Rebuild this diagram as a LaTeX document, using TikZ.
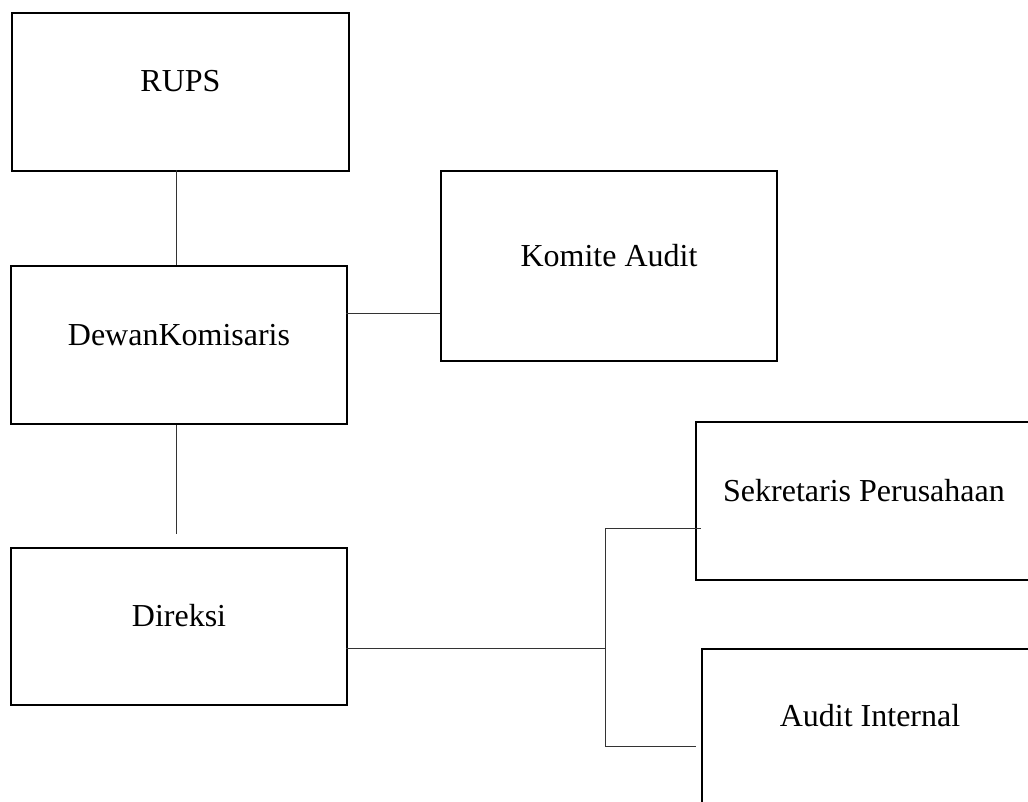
\documentclass[tikz,border=0pt]{standalone}
\usepackage{fontspec}
\setmainfont{Liberation Serif}
\usetikzlibrary{positioning}

\begin{document}
\begin{tikzpicture}[x=1pt, y=-1pt,
    orgbox/.style={draw=black, line width=2pt, anchor=north west, inner sep=0pt,
      minimum width=336pt, font=\fontsize{32}{38}\selectfont, text depth=#1},
    orgbox/.default=80pt,
    orgline/.style={line width=1pt, draw=black!80}
]
        \clip (0,0) rectangle (1028,801);

        \node[orgbox, text height=78pt, minimum width=337pt, name=rups] at(11,12) {RUPS};
        \node[orgbox, text height=79pt, text depth=79pt, name=dewan] at(10,265) {DewanKomisaris};
        \node[orgbox, text height=95pt, text depth=95pt, name=komite] at(440,170) {Komite Audit};
        \node[orgbox, text height=78pt, text depth=79pt, name=direksi] at(10,547) {Direksi};
        \node[orgbox, text height=79pt, text depth=79pt, name=sekretaris] at(695,421) {Sekretaris Perusahaan};
        \node[orgbox, text height=77pt, text depth=83pt, name=audit] at(701,648) {Audit Internal};

        % titik bantu garis
        \coordinate (rupsbot) at(176,170);
        \coordinate (dewanbot) at(176,534);
        \coordinate (dewanka) at(346,313);
        \coordinate (direksika) at(346,648);
        \coordinate (cabang) at(605,648);
        \coordinate (cabangatas) at(605,528);
        \coordinate (cabangbawah) at(605,746);
        \coordinate (ujungatas) at(701,528);
        \coordinate (ujungbawah) at(696,746);

        \draw[orgline] (rupsbot) -- (rupsbot |- dewan.north);
        \draw[orgline] (dewanbot |- dewan.south) -- (dewanbot);
        \draw[orgline] (dewanka) -- (dewanka -| komite.west);
        \draw[orgline] (direksika) -- (cabang);
        \draw[orgline] (cabangatas) -- (cabangbawah);
        \draw[orgline] (cabangatas) -- (ujungatas);
        \draw[orgline] (cabangbawah) -- (ujungbawah);
\end{tikzpicture}
\end{document}
